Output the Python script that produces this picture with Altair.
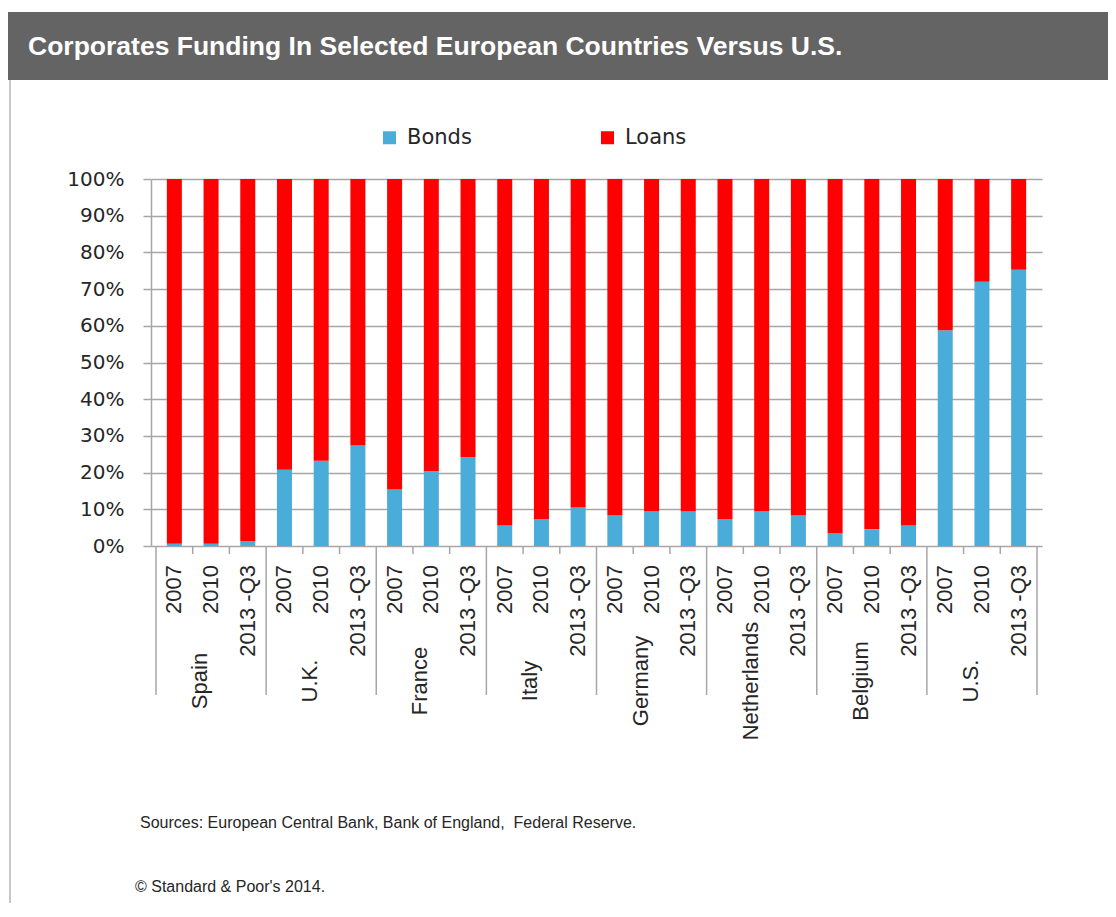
import altair as alt
import pandas as pd

# ---- data ----
countries = ["Spain", "U.K.", "France", "Italy", "Germany", "Netherlands", "Belgium", "U.S."]
periods = ["2007", "2010", "2013 -Q3"]
bonds_spain = [0.6, 0.6, 1.3]
bonds_uk = [20.8, 23.2, 27.4]
bonds_france = [15.4, 20.4, 24.2]
bonds_italy = [5.6, 7.3, 10.5]
bonds_germany = [8.3, 9.5, 9.4]
bonds_netherlands = [7.3, 9.5, 8.3]
bonds_belgium = [3.4, 4.6, 5.6]
bonds_us = [58.8, 72.0, 75.3]
series = ["Bonds", "Loans"]
colors = ["#4AACD9", "#FF0000"]
y_ticks = [0, 10, 20, 30, 40, 50, 60, 70, 80, 90, 100]
title_text = "Corporates Funding In Selected European Countries Versus U.S."
source_text = "Sources: European Central Bank, Bank of England,\u00a0 Federal Reserve."
copyright_text = "\u00a9 Standard & Poor's 2014."

bonds_all = [bonds_spain, bonds_uk, bonds_france, bonds_italy,
             bonds_germany, bonds_netherlands, bonds_belgium, bonds_us]

W, H = 891, 367
GRAY = "#A6A6A6"
TXT = "#262626"

rows, years, ticks, seps, groups = [], [], [], [], []
for gi, (c, vals) in enumerate(zip(countries, bonds_all)):
    for pi, (p, b) in enumerate(zip(periods, vals)):
        idx = gi * len(periods) + pi
        rows.append({"pos": idx + 0.5, "country": c, "period": p, "series": "Bonds", "value": b, "order": 0})
        rows.append({"pos": idx + 0.5, "country": c, "period": p, "series": "Loans", "value": 100 - b, "order": 1})
        years.append({"pos": idx + 0.5, "label": p})
        if pi > 0:
            ticks.append({"pos": idx})
    seps.append({"pos": gi * len(periods)})
    groups.append({"pos": gi * len(periods) + 1.2, "label": c})
seps.append({"pos": len(countries) * len(periods)})

bars_df = pd.DataFrame(rows)
xscale = alt.Scale(domain=[0, len(countries) * len(periods)], nice=False, zero=False)

bars = alt.Chart(bars_df).mark_bar(width=15).encode(
    x=alt.X("pos:Q", scale=xscale, axis=None),
    y=alt.Y("value:Q", stack="zero",
            scale=alt.Scale(domain=[0, 100], nice=False),
            axis=alt.Axis(values=y_ticks, labelExpr="datum.value + '%'", title=None,
                          grid=True, gridColor=GRAY, gridWidth=1.5,
                          domainColor=GRAY, domainWidth=1.5,
                          tickColor=GRAY, tickWidth=1.5, tickSize=8,
                          labelPadding=19, labelFont="DejaVu Sans", labelFontSize=20,
                          labelColor=TXT)),
    color=alt.Color("series:N", scale=alt.Scale(domain=series, range=colors),
                    legend=alt.Legend(orient="none", legendX=228, legendY=-52,
                                      direction="horizontal", columns=2, columnPadding=125,
                                      title=None, symbolType="square", symbolSize=169,
                                      symbolStrokeWidth=0, labelFont="DejaVu Sans",
                                      labelFontSize=21, labelColor=TXT, labelOffset=7,
                                      padding=0)),
    order=alt.Order("order:Q"),
)

year_labels = alt.Chart(pd.DataFrame(years)).mark_text(
    angle=270, align="right", baseline="middle", font="Liberation Sans",
    fontSize=22, color=TXT
).encode(x=alt.X("pos:Q", scale=xscale), y=alt.value(H + 19), text="label:N")

tick_marks = alt.Chart(pd.DataFrame(ticks)).mark_rule(color=GRAY, strokeWidth=1.5).encode(
    x=alt.X("pos:Q", scale=xscale), y=alt.value(H), y2=alt.value(H + 8))

sep_marks = alt.Chart(pd.DataFrame(seps)).mark_rule(color=GRAY, strokeWidth=1.5).encode(
    x=alt.X("pos:Q", scale=xscale), y=alt.value(H), y2=alt.value(516))

group_labels = alt.Chart(pd.DataFrame(groups)).mark_text(
    angle=270, align="center", baseline="middle", font="Liberation Sans",
    fontSize=22, color=TXT
).encode(x=alt.X("pos:Q", scale=xscale), y=alt.value(502), text="label:N")

one = pd.DataFrame({"t": [title_text], "s": [source_text], "c": [copyright_text]})

band = alt.Chart(one).mark_rect(color="#646464").encode(
    x=alt.value(-143), x2=alt.value(960), y=alt.value(-167), y2=alt.value(-99))

left_border = alt.Chart(one).mark_rule(color="#C8C8C8", strokeWidth=2).encode(
    x=alt.value(-141), y=alt.value(-99), y2=alt.value(724))

title = alt.Chart(one).mark_text(
    align="left", baseline="middle", font="Liberation Sans", fontSize=26.5,
    fontWeight="bold", color="white"
).encode(x=alt.value(-123), y=alt.value(-132), text="t:N")

source = alt.Chart(one).mark_text(
    align="left", baseline="middle", font="Liberation Sans", fontSize=16, color=TXT
).encode(x=alt.value(-11), y=alt.value(644), text="s:N")

copyright_ = alt.Chart(one).mark_text(
    align="left", baseline="middle", font="Liberation Sans", fontSize=16, color=TXT
).encode(x=alt.value(-16), y=alt.value(708), text="c:N")

chart = alt.layer(
    band, left_border, title, bars, tick_marks, sep_marks, year_labels, group_labels,
    source, copyright_
).properties(
    width=W, height=H,
    autosize=alt.AutoSizeParams(type="none"),
    padding={"left": 143, "top": 171, "right": 66, "bottom": 357},
    background="white",
).configure_view(stroke=None)

chart.save("out.html", embed_options={"renderer": "svg", "actions": False})
